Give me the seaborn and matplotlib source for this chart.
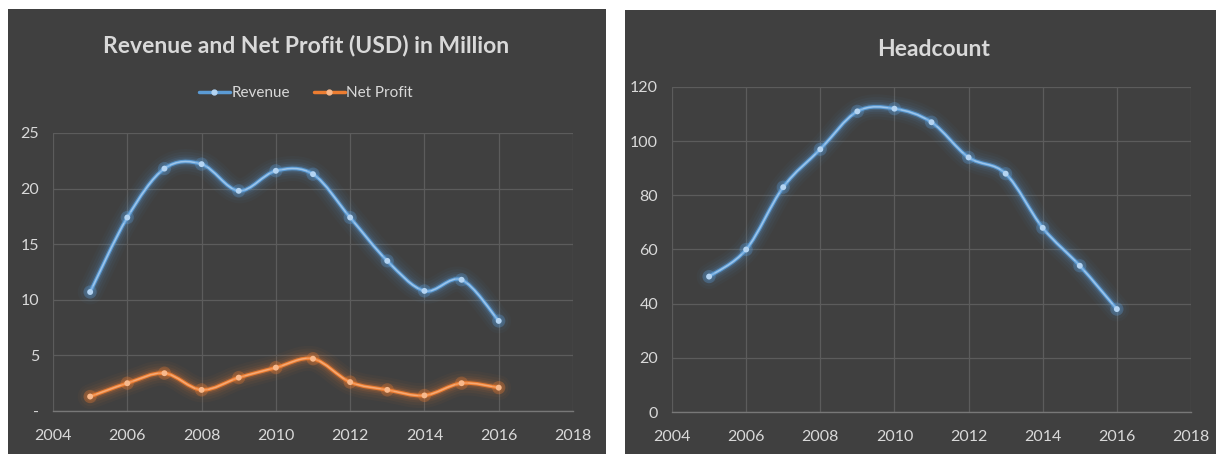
import numpy as np
import pandas as pd
import matplotlib
matplotlib.use("Agg")
import matplotlib.pyplot as plt
import seaborn as sns
from matplotlib.path import Path
from matplotlib.patches import PathPatch, Rectangle
from matplotlib.lines import Line2D

years = [2005, 2006, 2007, 2008, 2009, 2010, 2011, 2012, 2013, 2014, 2015, 2016]
revenue = [10.7, 17.4, 21.8, 22.2, 19.8, 21.6, 21.3, 17.4, 13.5, 10.8, 11.8, 8.1]
net_profit = [1.3, 2.5, 3.4, 1.9, 3.0, 3.9, 4.7, 2.6, 1.9, 1.4, 2.5, 2.1]
headcount = [50, 60, 83, 97, 111, 112, 107, 94, 88, 68, 54, 38]
x_ticks = [2004, 2006, 2008, 2010, 2012, 2014, 2016, 2018]
left_yticks = [0, 5, 10, 15, 20, 25]
left_ylabels = ["-", "5", "10", "15", "20", "25"]
right_yticks = [0, 20, 40, 60, 80, 100, 120]

sns.set_theme(style="dark")
plt.rcParams["font.family"] = ["Lato", "DejaVu Sans"]

BG = "#404040"
GRID = "#5c5c5c"
AXLINE = "#787878"
TXT = "#d9d9d9"
BLUE = "#5b9bd5"
BLUE_CORE = "#b4d4f2"
ORANGE = "#ed7d31"
ORANGE_CORE = "#f8b98c"

fig = plt.figure(figsize=(12.16, 4.54), dpi=100, facecolor="white")
fig.patches.append(Rectangle((8 / 1216, 0), (606 - 8) / 1216, 1 - 9 / 454,
                             transform=fig.transFigure, facecolor=BG, edgecolor="none", zorder=-5))
fig.patches.append(Rectangle((625 / 1216, 0), (1216 - 625) / 1216, 1 - 10 / 454,
                             transform=fig.transFigure, facecolor=BG, edgecolor="none", zorder=-5))


def smooth_path(xs, ys):
    pts = np.column_stack([xs, ys]).astype(float)
    n = len(pts)
    verts = [pts[0]]
    codes = [Path.MOVETO]
    for i in range(n - 1):
        p0 = pts[i - 1] if i > 0 else pts[i]
        p1 = pts[i]
        p2 = pts[i + 1]
        p3 = pts[i + 2] if i + 2 < n else pts[i + 1]
        c1 = p1 + (p2 - p0) / 6.0
        c2 = p2 - (p3 - p1) / 6.0
        verts += [c1, c2, p2]
        codes += [Path.CURVE4] * 3
    return Path(verts, codes)


def glow_line(ax, xs, ys, color, core):
    path = smooth_path(xs, ys)
    for lw, a in [(18, 0.035), (14, 0.05), (10, 0.07), (7, 0.11), (4.5, 0.2)]:
        ax.add_patch(PathPatch(path, facecolor="none", edgecolor=color, lw=lw, alpha=a,
                               capstyle="round", joinstyle="round", zorder=3))
    ax.add_patch(PathPatch(path, facecolor="none", edgecolor=color, lw=2.6, zorder=4))
    ax.add_patch(PathPatch(path, facecolor="none", edgecolor=core, lw=1.1, alpha=0.75, zorder=5))
    df = pd.DataFrame({"year": xs, "value": ys})
    sns.scatterplot(data=df, x="year", y="value", ax=ax, color=color, s=90, alpha=0.3,
                    edgecolor="none", zorder=5, legend=False)
    sns.scatterplot(data=df, x="year", y="value", ax=ax, color=core, s=18,
                    edgecolor="none", zorder=6, legend=False)


def style_axes(ax, yticks, ylabels, ymax):
    ax.set_facecolor(BG)
    ax.patch.set_alpha(0)
    ax.set_xlim(2004, 2018)
    ax.set_ylim(0, ymax)
    ax.set_xticks(x_ticks)
    ax.set_xticklabels([str(t) for t in x_ticks])
    ax.set_yticks(yticks)
    ax.set_yticklabels(ylabels)
    ax.grid(True, color=GRID, lw=0.9)
    ax.set_axisbelow(True)
    for s in ["top", "right", "left"]:
        ax.spines[s].set_visible(False)
    ax.spines["bottom"].set_visible(True)
    ax.spines["bottom"].set_color(AXLINE)
    ax.spines["bottom"].set_linewidth(1.0)
    ax.tick_params(axis="both", colors=TXT, labelsize=11.5, length=0)
    ax.tick_params(axis="x", pad=13)
    ax.tick_params(axis="y", pad=10)
    ax.set_xlabel("")
    ax.set_ylabel("")


# Left chart
ax1 = fig.add_axes([53 / 1216, 1 - 411 / 454, (573 - 53) / 1216, (411 - 133) / 454])
glow_line(ax1, years, revenue, BLUE, BLUE_CORE)
glow_line(ax1, years, net_profit, ORANGE, ORANGE_CORE)
style_axes(ax1, left_yticks, left_ylabels, 25)

handles = [Line2D([0], [0], color=BLUE, lw=2.5, marker="o", markersize=3.5,
                  markerfacecolor=BLUE_CORE, markeredgecolor=BLUE_CORE),
           Line2D([0], [0], color=ORANGE, lw=2.5, marker="o", markersize=3.5,
                  markerfacecolor=ORANGE_CORE, markeredgecolor=ORANGE_CORE)]
fig.legend(handles, ["Revenue", "Net Profit"], loc="center", bbox_to_anchor=(306 / 1216, 1 - 93 / 454),
           ncol=2, frameon=False, fontsize=11, labelcolor=TXT, handlelength=2.0,
           handletextpad=0.1, columnspacing=1.6)
fig.text(306 / 1216, 1 - 46 / 454, "Revenue and Net Profit (USD) in Million", ha="center", va="center",
         color=TXT, fontsize=16.5, fontweight="bold")

# Right chart
ax2 = fig.add_axes([672 / 1216, 1 - 412 / 454, (1191 - 672) / 1216, (412 - 87) / 454])
glow_line(ax2, years, headcount, BLUE, BLUE_CORE)
style_axes(ax2, right_yticks, [str(t) for t in right_yticks], 120)
fig.text(934 / 1216, 1 - 50 / 454, "Headcount", ha="center", va="center",
         color=TXT, fontsize=16.5, fontweight="bold")

fig.savefig("out.png", dpi=100, facecolor="white")
